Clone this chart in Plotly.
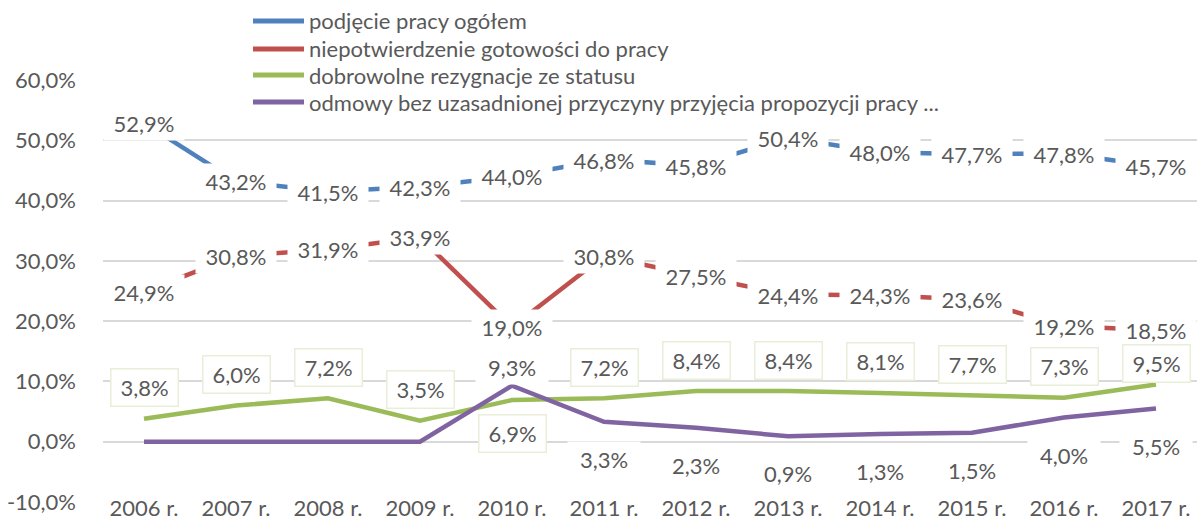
import plotly.graph_objects as go

years = ["2006 r.", "2007 r.", "2008 r.", "2009 r.", "2010 r.", "2011 r.",
         "2012 r.", "2013 r.", "2014 r.", "2015 r.", "2016 r.", "2017 r."]

names = [
    "podjęcie pracy ogółem",
    "niepotwierdzenie gotowości do pracy",
    "dobrowolne rezygnacje ze statusu",
    "odmowy bez uzasadnionej przyczyny przyjęcia propozycji pracy ...",
]

podjecie = [52.9, 43.2, 41.5, 42.3, 44.0, 46.8, 45.8, 50.4, 48.0, 47.7, 47.8, 45.7]
niepotwierdzenie = [24.9, 30.8, 31.9, 33.9, 19.0, 30.8, 27.5, 24.4, 24.3, 23.6, 19.2, 18.5]
dobrowolne = [3.8, 6.0, 7.2, 3.5, 6.9, 7.2, 8.4, 8.4, 8.1, 7.7, 7.3, 9.5]
odmowy = [0.0, 0.0, 0.0, 0.0, 9.3, 3.3, 2.3, 0.9, 1.3, 1.5, 4.0, 5.5]

y_ticks = [-10, 0, 10, 20, 30, 40, 50, 60]
y_ticktext = ["-10,0%", "0,0%", "10,0%", "20,0%", "30,0%", "40,0%", "50,0%", "60,0%"]

colors = ["#4f81bd", "#c0504d", "#9bbb59", "#8064a2"]
series = [podjecie, niepotwierdzenie, dobrowolne, odmowy]

FONT = "Lato"
FS = 22
TXT = "#595959"
GRID = "#d9d9d9"

W, H = 1197, 517
ML, MR, MT, MB = 103, 0, 80, 15
PW, PH = W - ML - MR, H - MT - MB
YMIN, YMAX = -10, 60
PXPER = PH / (YMAX - YMIN)


def px2paper(xp, yp):
    return (xp - ML) / PW, (H - MB - yp) / PH


def ypx(v):
    return MT + (YMAX - v) * PXPER


def fmt(v):
    return f"{v:.1f}".replace(".", ",") + "%"


fig = go.Figure()
for name, vals, col in zip(names, series, colors):
    fig.add_trace(go.Scatter(x=years, y=vals, mode="lines", name=name,
                             line=dict(color=col, width=4.5), showlegend=False,
                             hoverinfo="skip"))

lab_font = dict(family=FONT, size=FS, color=TXT)
ann = []
# blue and red labels centred on the points with white background
for vals in (podjecie, niepotwierdzenie):
    for x, v in zip(years, vals):
        ann.append(dict(x=x, y=v, xref="x", yref="y", text=fmt(v), showarrow=False,
                        font=lab_font, bgcolor="white", borderpad=4, width=72, height=26))

# green and purple: larger one labelled above, smaller one below
for x, g, p, r in zip(years, dobrowolne, odmowy, niepotwierdzenie):
    g_above = g >= p
    if g_above:
        centre = max(ypx(g) - 31, ypx(r) + 33)  # keep clear of the red label
        gshift = ypx(g) - centre
    else:
        gshift = -33
    ann.append(dict(x=x, y=g, xref="x", yref="y", text=fmt(g), showarrow=False,
                    font=lab_font, bgcolor="white", bordercolor="#e9eed9",
                    borderwidth=1.5, borderpad=7, width=52, height=22, yshift=gshift))
    if p > 0:
        ann.append(dict(x=x, y=p, xref="x", yref="y", text=fmt(p), showarrow=False,
                        font=lab_font, bgcolor="white", borderpad=4, width=64, height=26,
                        yshift=19 if not g_above else -37))

# legend drawn manually
shapes = []
leg_y = [21, 49, 75, 102]
for name, col, yp in zip(names, colors, leg_y):
    x0, y0 = px2paper(253, yp)
    x1, _ = px2paper(304, yp)
    shapes.append(dict(type="line", xref="paper", yref="paper", x0=x0, x1=x1,
                       y0=y0, y1=y0, line=dict(color=col, width=5), layer="above"))
    tx, _ = px2paper(307, yp)
    ann.append(dict(x=tx, y=y0, xref="paper", yref="paper", text=name,
                    showarrow=False, xanchor="left", yanchor="middle", font=lab_font))

fig.update_layout(
    width=W, height=H,
    margin=dict(l=ML, r=MR, t=MT, b=MB, autoexpand=False),
    paper_bgcolor="white", plot_bgcolor="white",
    font=dict(family=FONT, size=FS, color=TXT),
    annotations=ann, shapes=shapes,
    xaxis=dict(type="category", showgrid=False, showline=False, ticks="",
               automargin=False, ticklabelstandoff=-9, tickfont=lab_font,
               fixedrange=True),
    yaxis=dict(range=[YMIN, YMAX], tickvals=y_ticks, ticktext=y_ticktext,
               showgrid=True, gridcolor=GRID, gridwidth=1.5,
               zeroline=True, zerolinecolor=GRID, zerolinewidth=1.5,
               showline=False, ticks="", ticklabelstandoff=26, automargin=False,
               tickfont=lab_font, fixedrange=True),
)

fig.write_html("out.html", config={"displayModeBar": False},
               post_script="document.body.style.margin='0';document.body.style.overflow='hidden';")
